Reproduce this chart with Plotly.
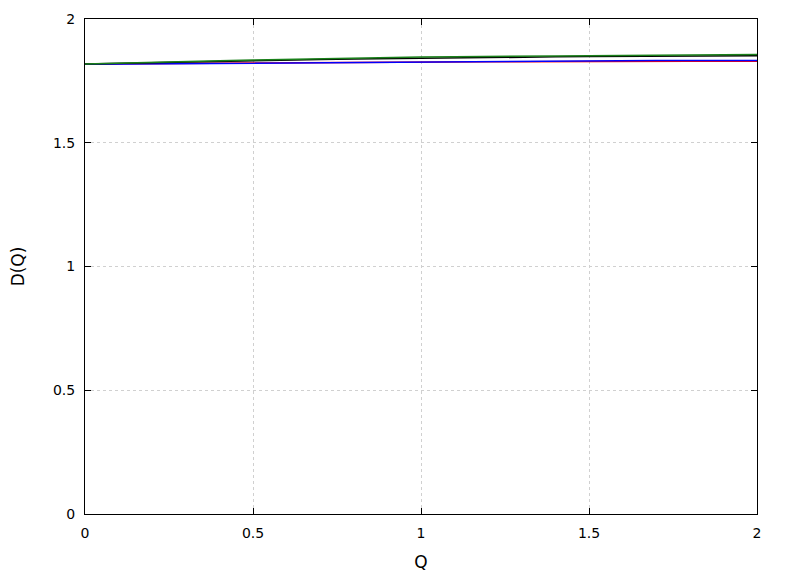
import plotly.graph_objects as go

Q = [0.0, 0.1, 0.2, 0.3, 0.4, 0.5, 0.6, 0.7, 0.8, 0.9, 1.0,
     1.1, 1.2, 1.3, 1.4, 1.5, 1.6, 1.7, 1.8, 1.9, 2.0]

red = [1.818, 1.819, 1.820, 1.821, 1.822, 1.822, 1.823, 1.823, 1.824, 1.825, 1.826,
       1.826, 1.827, 1.827, 1.828, 1.828, 1.829, 1.829, 1.829, 1.829, 1.829]
blue = [1.817, 1.818, 1.819, 1.820, 1.821, 1.822, 1.823, 1.824, 1.825, 1.826, 1.827,
        1.828, 1.829, 1.829, 1.830, 1.831, 1.831, 1.832, 1.832, 1.832, 1.832]
black = [1.818, 1.821, 1.824, 1.827, 1.829, 1.832, 1.834, 1.836, 1.838, 1.840, 1.842,
         1.843, 1.845, 1.846, 1.847, 1.848, 1.849, 1.850, 1.851, 1.851, 1.852]
green = [1.818, 1.822, 1.825, 1.828, 1.831, 1.834, 1.837, 1.839, 1.842, 1.844, 1.846,
         1.847, 1.849, 1.850, 1.851, 1.852, 1.853, 1.854, 1.855, 1.856, 1.857]

ticks = [0, 0.5, 1, 1.5, 2]
tick_text = ["0", "0.5", "1", "1.5", "2"]

fig = go.Figure()
for y, c in [(red, "#ff0000"), (blue, "#0000ff"), (black, "#000000"), (green, "#1a801a")]:
    fig.add_trace(go.Scatter(x=Q, y=y, mode="lines", line=dict(color=c, width=1.5),
                             showlegend=False))

axis_common = dict(
    showline=True, linecolor="black", linewidth=1, mirror="ticks",
    ticks="inside", ticklen=6, tickcolor="black",
    showgrid=True, gridcolor="#d0d0d0", griddash="dot", gridwidth=1,
    zeroline=False, tickvals=ticks, ticktext=tick_text,
    tickfont=dict(family="DejaVu Sans", size=14, color="black"),
)

fig.update_layout(
    width=780, height=568,
    margin=dict(l=77, r=31, t=11, b=62, autoexpand=False),
    paper_bgcolor="white", plot_bgcolor="white",
    font=dict(family="DejaVu Sans", size=14, color="black"),
    xaxis=dict(range=[0, 2], title=dict(text="Q", standoff=16), ticklabelstandoff=6,
               **axis_common),
    yaxis=dict(range=[0, 2], title=dict(text="D(Q)", standoff=24), ticklabelstandoff=6,
               **axis_common),
)

fig.write_html("out.html")
